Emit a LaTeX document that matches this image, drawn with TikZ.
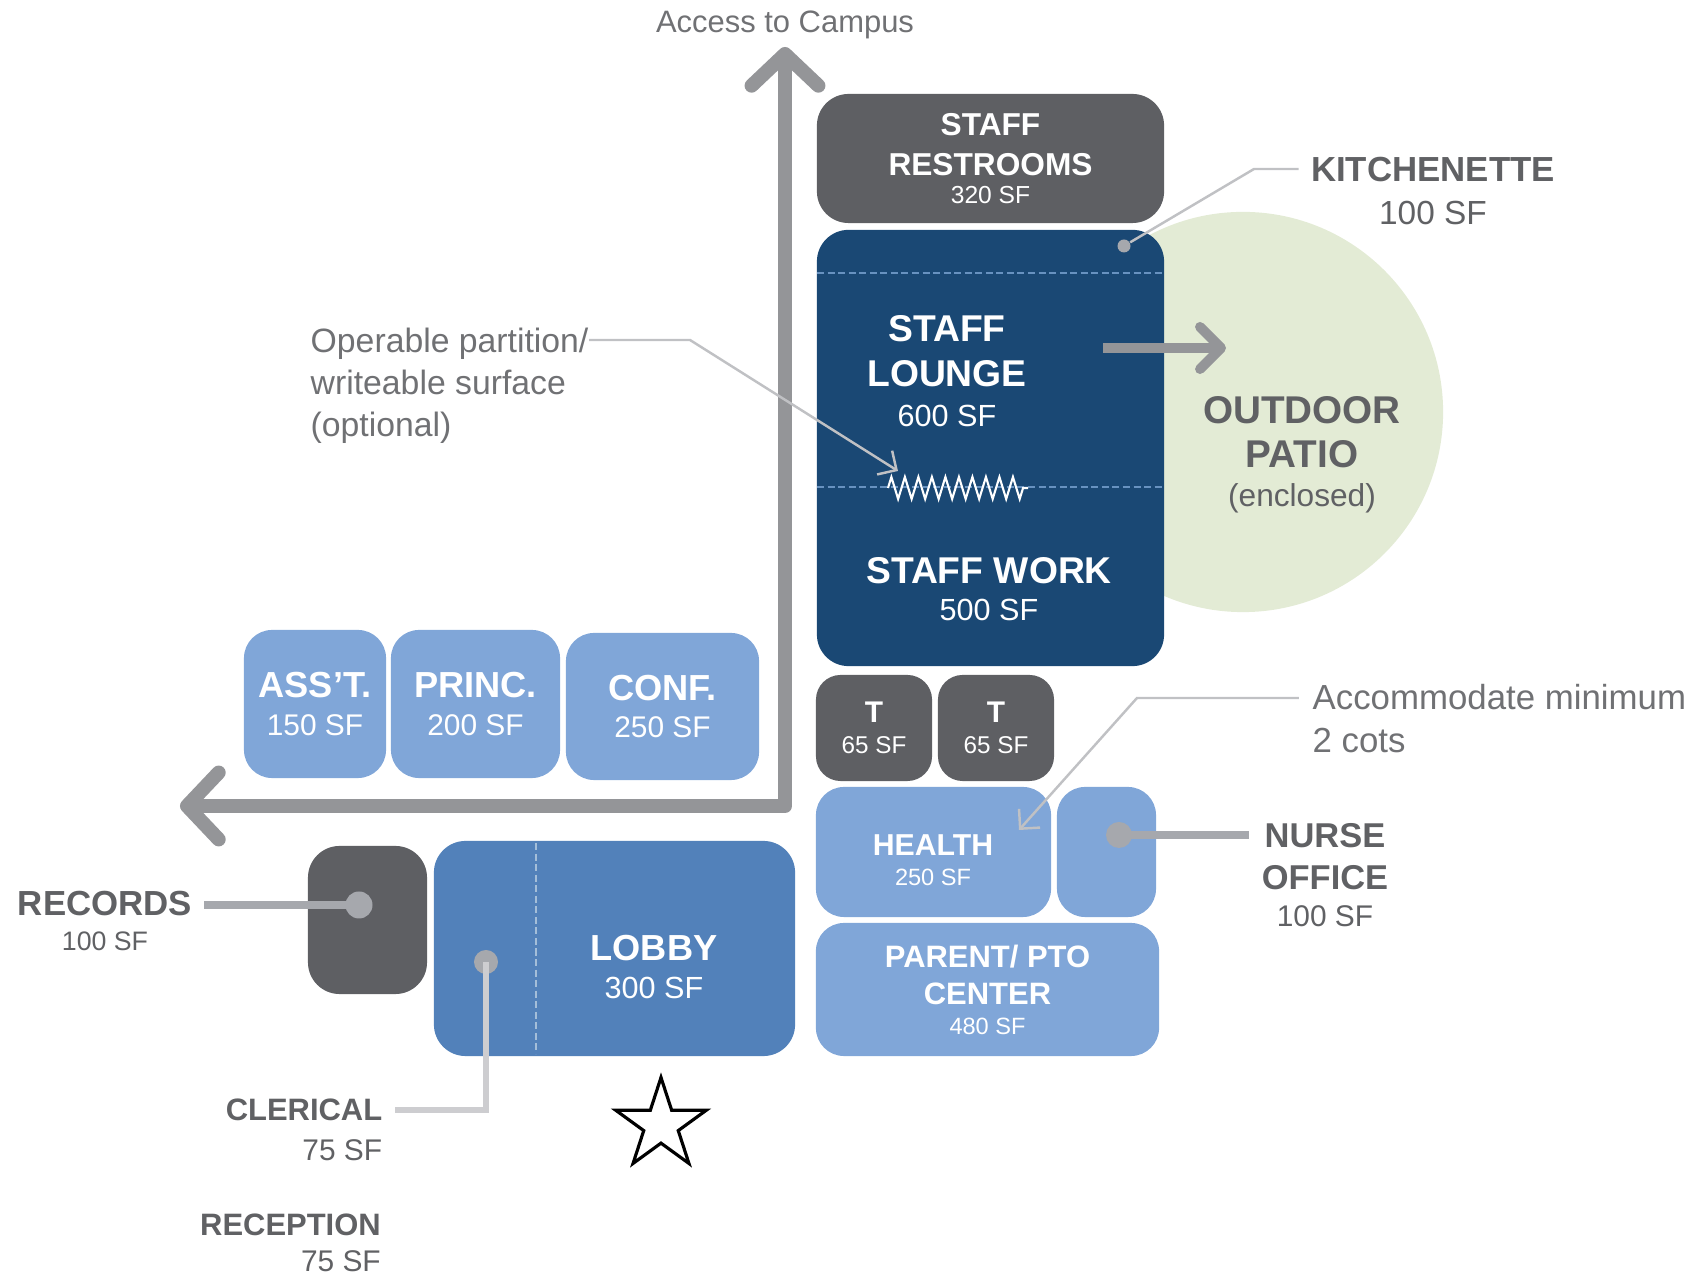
\documentclass[tikz,border=0pt]{standalone}
\usepackage{fontspec}
\setmainfont{Liberation Sans}
\usetikzlibrary{positioning,shapes.geometric,arrows.meta,decorations.pathmorphing}

\definecolor{navybox}{RGB}{26,72,116}
\definecolor{roomgray}{RGB}{94,95,99}
\definecolor{paleblue}{RGB}{128,166,216}
\definecolor{lobbyblue}{RGB}{82,129,186}
\definecolor{routegray}{RGB}{148,149,152}
\definecolor{patiogreen}{RGB}{227,235,213}
\definecolor{labelgray}{RGB}{96,97,100}
\definecolor{notegray}{RGB}{112,113,116}
\definecolor{leadgray}{RGB}{192,193,196}
\definecolor{dotgray}{RGB}{166,168,173}
\definecolor{divblue}{RGB}{104,146,192}

\newcommand{\sqft}[2]{{\fontsize{#1}{#1}\selectfont\mdseries #2}}

\begin{document}
\begin{tikzpicture}[x=0.01cm,y=-0.01cm]
            \tikzstyle{room}=[rectangle,rounded corners=8pt,inner sep=0pt,align=center,text=white]
            \tikzstyle{lbl}=[text=labelgray,align=center]
            \tikzstyle{note}=[text=notegray,align=left,inner sep=0pt,font=\fontsize{9.6}{12}\selectfont]
            \tikzstyle{dot}=[circle,fill=dotgray,inner sep=0pt]
            \tikzstyle{leader}=[draw=leadgray,line width=0.7pt]
            \tikzstyle{pointer}=[draw=dotgray,line width=2.2pt]
            \tikzstyle{divider}=[draw=divblue,line width=0.5pt,dash pattern=on 2pt off 1pt]

            \tikzstyle{G}=[room,fill=roomgray]     % service rooms
            \tikzstyle{N}=[room,fill=navybox]      % staff suite
            \tikzstyle{B}=[room,fill=paleblue]     % offices
            \tikzstyle{LB}=[room,fill=lobbyblue]   % lobby

            \tikzstyle{route}=[draw=routegray,line width=4pt,line join=round,
                arrows={Straight Barb[round,length=9pt,width=19pt]-Straight Barb[round,length=9pt,width=19pt]}]

            \useasboundingbox (0,0) rectangle (1690,1277);

            % access route
            \node[text=notegray,font=\fontsize{8.8}{10}\selectfont,inner sep=0pt] (campus) at (785,25) {Access to Campus};
            \coordinate (campustip) at (785,47);
            \coordinate (corner) at (785,806);
            \coordinate (westtip) at (180,806);
            \draw[route] (campustip) -- (corner) -- (westtip);

            % patio behind the suite
            \node[circle,fill=patiogreen,minimum size=4cm,inner sep=0pt] (patio) at (1243,412) {};
            \node[lbl,font=\fontsize{11}{12.5}\selectfont\bfseries] (patiotxt) at (1302,455) {OUTDOOR\\PATIO\\[-1.3pt]\sqft{9}{(enclosed)}};

            % staff suite
            \node[G,minimum width=3.47cm,minimum height=1.29cm,rounded corners=9pt,font=\fontsize{9}{11.4}\selectfont\bfseries] (restroom) at (990.5,158.5) {STAFF\\RESTROOMS\\[-3.3pt]\sqft{7}{320 SF}};
            \node[N,minimum width=3.47cm,minimum height=4.36cm,rounded corners=9pt] (suite) at (990.5,448) {};
            \draw[divider] (817,273) -- (1164,273);
            \draw[divider] (817,487) -- (1164,487);
            \node[text=white,align=center,font=\fontsize{10.6}{12.8}\selectfont\bfseries] (lounge) at (947,371) {STAFF\\LOUNGE\\[-1.5pt]\sqft{8.7}{600 SF}};
            \node[text=white,align=center,font=\fontsize{10.6}{10.4}\selectfont\bfseries] (work) at (989,589) {STAFF WORK\\\sqft{8.7}{500 SF}};

            \coordinate (zzstart) at (888,488);
            \coordinate (zzend) at (1028,488);
            \draw[white,line width=0.6pt,decorate,decoration={zigzag,segment length=0.135cm,amplitude=0.11cm}] (zzstart) -- (zzend);

            \coordinate (loungeout) at (1103,348);
            \coordinate (patioin) at (1226,348);
            \draw[draw=routegray,line width=2.8pt,arrows={-Straight Barb[round,length=6pt,width=12pt]}] (loungeout) -- (patioin);

            \node[dot,minimum size=0.13cm] (kitdot) at (1124,246) {};
            \node[lbl,font=\fontsize{9.9}{12.1}\selectfont\bfseries] (kitlbl) at (1433,191) {KITCHENETTE\\\sqft{9.5}{100 SF}};
            \coordinate (kitbend) at (1254,169);
            \draw[leader] (kitdot) -- (kitbend) -- (kitbend -| kitlbl.west);

            \node[note,anchor=west] (partlbl) at (310,386) {Operable partition/\\writeable surface\\(optional)};
            \coordinate (partbend) at (690,340);
            \coordinate (parttip) at (898,471);
            \draw[leader,arrows={-Straight Barb[length=4pt,width=8pt]}] (partbend -| partlbl.east) -- (partbend) -- (parttip);

            % toilets, health, parent center
            \node[G,minimum width=1.16cm,minimum height=1.06cm,rounded corners=7pt,font=\fontsize{8.5}{8.8}\selectfont\bfseries] (tone) at (874,728) {T\\\sqft{6.9}{65 SF}};
            \node[G,minimum width=1.16cm,minimum height=1.06cm,rounded corners=7pt,font=\fontsize{8.5}{8.8}\selectfont\bfseries] (ttwo) at (996,728) {T\\\sqft{6.9}{65 SF}};
            \node[B,minimum width=2.35cm,minimum height=1.30cm] (health) at (933.5,852) {};
            \node[text=white,align=center,font=\fontsize{8.6}{8.4}\selectfont\bfseries] (healthtxt) at (933,860) {HEALTH\\\sqft{6.7}{250 SF}};
            \node[B,minimum width=0.99cm,minimum height=1.30cm] (nurse) at (1106.5,852) {};
            \node[B,minimum width=3.43cm,minimum height=1.33cm,font=\fontsize{8.8}{10.8}\selectfont\bfseries] (parent) at (987.5,989.5) {PARENT/ PTO\\CENTER\\[-2.5pt]\sqft{6.7}{480 SF}};

            \node[dot,minimum size=0.26cm] (nursedot) at (1119,835) {};
            \node[lbl,font=\fontsize{9.8}{11.9}\selectfont\bfseries] (nurselbl) at (1325,875) {NURSE\\OFFICE\\[-1.3pt]\sqft{8.5}{100 SF}};
            \draw[pointer] (nursedot.center) -- (nursedot -| nurselbl.west);

            \node[note,anchor=west,font=\fontsize{9.9}{12.2}\selectfont] (cotslbl) at (1312,719) {Accommodate minimum\\2 cots};
            \coordinate (cotsbend) at (1137,698);
            \coordinate (cotstip) at (1019,830);
            \draw[leader,shorten <=3.7pt,arrows={-Straight Barb[length=4pt,width=8pt]}] (cotsbend -| cotslbl.west) -- (cotsbend) -- (cotstip);

            % offices
            \node[B,minimum width=1.42cm,minimum height=1.48cm,font=\fontsize{10.3}{10.7}\selectfont\bfseries] (asst) at (315,704) {ASS'T.\\\sqft{8.5}{150 SF}};
            \node[B,minimum width=1.69cm,minimum height=1.48cm,font=\fontsize{10.3}{10.7}\selectfont\bfseries] (princ) at (475.5,704) {PRINC.\\\sqft{8.5}{200 SF}};
            \node[B,minimum width=1.93cm,minimum height=1.47cm,font=\fontsize{10.3}{10.7}\selectfont\bfseries] (conf) at (662.5,706.5) {CONF.\\\sqft{8.5}{250 SF}};

            % front desk
            \node[G,minimum width=1.19cm,minimum height=1.48cm,rounded corners=9pt] (records) at (367.5,920) {};
            \node[dot,minimum size=0.27cm] (recdot) at (359,905) {};
            \node[lbl,font=\fontsize{9.9}{10}\selectfont\bfseries] (reclbl) at (105,921) {RECORDS\\\sqft{7.6}{100 SF}};
            \draw[pointer] (recdot.center) -- (recdot -| reclbl.east);

            \node[LB,minimum width=3.61cm,minimum height=2.15cm,rounded corners=9pt] (lobby) at (614.5,948.5) {};
            \draw[divider,draw=divblue!60!white] (536,843) -- (536,1054);
            \node[text=white,align=center,font=\fontsize{10.3}{10.8}\selectfont\bfseries] (lobbytxt) at (654,967) {LOBBY\\\sqft{8.7}{300 SF}};

            \node[dot,minimum size=0.24cm] (clerdot) at (486,962) {};
            \node[lbl,align=right,font=\fontsize{8.8}{11.3}\selectfont\bfseries] (clerlbl) at (304,1130) {CLERICAL\\\sqft{8.5}{75 SF}};
            \coordinate (clerbend) at (486,1110);
            \draw[draw=leadgray!80!white,line width=1.5pt] (clerdot.center) -- (clerbend) -- (clerbend -| clerlbl.east);
            \node[lbl,align=right,font=\fontsize{8.8}{10.4}\selectfont\bfseries] (reception) at (290.5,1243) {RECEPTION\\\sqft{8.5}{75 SF}};

            \node[star,star points=5,star point ratio=2.618,draw=black,line width=0.9pt,minimum size=0.95cm,inner sep=0pt] (entry) at (661,1125) {};
        \end{tikzpicture}
\end{document}
